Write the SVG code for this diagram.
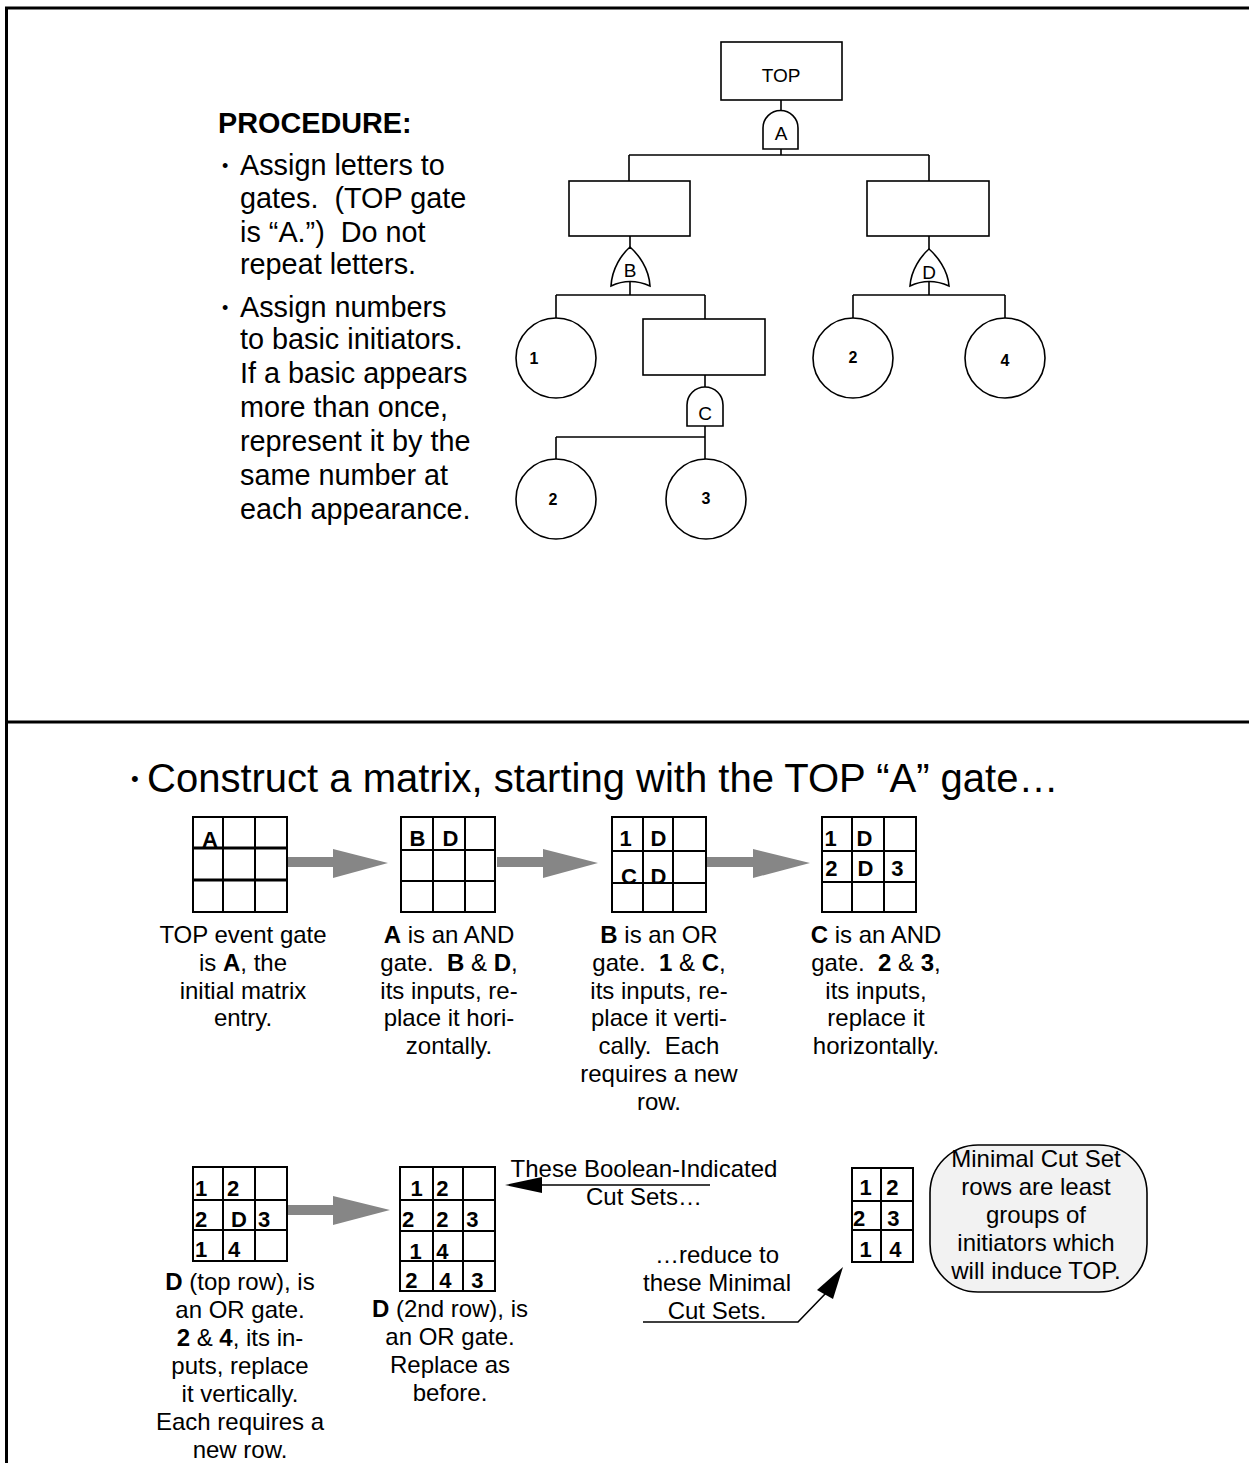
<svg xmlns="http://www.w3.org/2000/svg" width="1249" height="1463" viewBox="0 0 1249 1463">
<style>
text{white-space:pre}
.ln{stroke:#000;stroke-width:1.6;fill:none}
.bx{stroke:#000;stroke-width:1.6;fill:#fff}
.gt{stroke:#000;stroke-width:1.6;fill:#fff}
.gl{font-family:"Liberation Sans",Arial,sans-serif;font-size:19px;text-anchor:middle}
.cl{font-family:"Liberation Sans",Arial,sans-serif;font-size:16px;font-weight:bold;text-anchor:middle}
.pr{font-family:"Liberation Sans",Arial,sans-serif;font-size:28.8px}
.bu{font-family:"Liberation Sans",Arial,sans-serif;font-size:18px}
.big{font-family:"Liberation Sans",Arial,sans-serif;font-size:40px}
.cap{font-family:"Liberation Sans",Arial,sans-serif;font-size:24px;text-anchor:middle}
.m{stroke:#000;stroke-width:2;fill:#fff}
.ml{stroke:#000;stroke-width:2;fill:none}
.mt{font-family:"Liberation Sans",Arial,sans-serif;font-size:22px;font-weight:bold}
.ga{fill:#868686}
.b{font-weight:bold}
</style>
<rect width="1249" height="1463" fill="#fff"/>
<g id="frame">
<line x1="5" y1="8" x2="1249" y2="8" stroke="#000" stroke-width="3"/>
<line x1="6.5" y1="8" x2="6.5" y2="1463" stroke="#000" stroke-width="3"/>
<line x1="5" y1="722" x2="1249" y2="722" stroke="#000" stroke-width="3"/>
</g>

<g id="procedure">
<text class="pr b" x="218" y="133">PROCEDURE:</text>
<text class="bu" x="222" y="172">•</text>
<text class="pr" x="240" y="175">Assign letters to</text>
<text class="pr" x="240" y="208">gates.  (TOP gate</text>
<text class="pr" x="240" y="242">is “A.”)  Do not</text>
<text class="pr" x="240" y="274">repeat letters.</text>
<text class="bu" x="222" y="314">•</text>
<text class="pr" x="240" y="317">Assign numbers</text>
<text class="pr" x="240" y="349">to basic initiators.</text>
<text class="pr" x="240" y="383">If a basic appears</text>
<text class="pr" x="240" y="417">more than once,</text>
<text class="pr" x="240" y="451">represent it by the</text>
<text class="pr" x="240" y="485">same number at</text>
<text class="pr" x="240" y="519">each appearance.</text>
</g>

<g id="connectors">
<path class="ln" d="M781,100V110 M781,149V155 M629,155H929 M629,155V181 M929,155V181"/>
<path class="ln" d="M630,236V247 M630,282V295 M556,295H705 M556,295V318 M705,295V319"/>
<path class="ln" d="M705,375V387 M705,426V459 M556,437H705 M556,437V459"/>
<path class="ln" d="M929,236V249 M929,282V295 M853,295H1005 M853,295V318 M1005,295V318"/>
<line x1="540" y1="1185" x2="710" y2="1185" stroke="#000" stroke-width="1.6"/>
<polygon points="505,1185 542,1177 542,1193" fill="#000"/>
<polyline points="643,1322 798,1322 826,1293" fill="none" stroke="#000" stroke-width="1.6"/>
<polygon points="843,1267 817,1290 833,1299" fill="#000"/>
<g class="ga">
<rect x="288" y="857" width="46" height="10"/><polygon points="333,849 388,863 333,878"/>
<rect x="497" y="857" width="47" height="10"/><polygon points="543,849 598,863 543,878"/>
<rect x="707" y="857" width="47" height="10"/><polygon points="753,849 810,863 753,878"/>
<rect x="288" y="1205" width="46" height="10"/><polygon points="333,1196 390,1210 333,1225"/>
</g>
</g>

<g id="node-top">
<rect class="bx" x="721" y="42" width="121" height="58"/>
<text class="gl" x="781" y="82">TOP</text>
</g>
<g id="gate-A">
<path class="gt" d="M763,149V128A17.5,17.5 0 0 1 798,128V149Z"/>
<text class="gl" x="781" y="140">A</text>
</g>
<g id="node-left">
<rect class="bx" x="569" y="181" width="121" height="55"/>
</g>
<g id="node-right">
<rect class="bx" x="867" y="181" width="122" height="55"/>
</g>
<g id="gate-B">
<path class="gt" d="M630,247C622,254 612,268 611,286Q630,277 650,286C649,268 638,254 630,247Z"/>
<text class="gl" x="630" y="277">B</text>
</g>
<g id="gate-D">
<path class="gt" d="M929,249C921,256 911,270 910,286Q929,277 949,286C948,270 937,256 929,249Z"/>
<text class="gl" x="929" y="279">D</text>
</g>
<g id="basic-1">
<circle class="bx" cx="556" cy="358" r="40"/>
<text class="cl" x="534" y="364">1</text>
</g>
<g id="node-mid">
<rect class="bx" x="643" y="319" width="122" height="56"/>
</g>
<g id="gate-C">
<path class="gt" d="M687,426V405A18,18 0 0 1 723,405V426Z"/>
<text class="gl" x="705" y="420">C</text>
</g>
<g id="basic-2a">
<circle class="bx" cx="556" cy="499" r="40"/>
<text class="cl" x="553" y="505">2</text>
</g>
<g id="basic-3">
<circle class="bx" cx="706" cy="499" r="40"/>
<text class="cl" x="706" y="504">3</text>
</g>
<g id="basic-2b">
<circle class="bx" cx="853" cy="358" r="40"/>
<text class="cl" x="853" y="363">2</text>
</g>
<g id="basic-4">
<circle class="bx" cx="1005" cy="358" r="40"/>
<text class="cl" x="1005" y="366">4</text>
</g>

<g id="construct">
<text class="bu" x="131" y="786" style="font-size:22px">•</text>
<text class="big" x="147" y="792">Construct a matrix, starting with the TOP “A” gate…</text>
</g>

<g id="matrix-1">
<rect class="m" x="193" y="817" width="94" height="95"/>
<path class="ml" d="M223,817V912 M255,817V912"/>
<path d="M193,848H287 M193,880H287" stroke="#000" stroke-width="3"/>
<text class="mt" x="202" y="847">A</text>
</g>
<g id="matrix-2">
<rect class="m" x="401" y="817" width="94" height="95"/>
<path class="ml" d="M433,817V912 M465,817V912 M401,850H495 M401,881H495"/>
<text class="mt" x="409.5" y="846">B</text>
<text class="mt" x="442.5" y="846">D</text>
</g>
<g id="matrix-3">
<rect class="m" x="612" y="817" width="94" height="95"/>
<path class="ml" d="M643,817V912 M673,817V912 M612,851H706 M612,883H706"/>
<text class="mt" x="619.5" y="846">1</text>
<text class="mt" x="650.5" y="846">D</text>
<text class="mt" x="621" y="884">C</text>
<text class="mt" x="650.5" y="884">D</text>
</g>
<g id="matrix-4">
<rect class="m" x="822" y="817" width="94" height="95"/>
<path class="ml" d="M852,817V912 M884,817V912 M822,851H916 M822,882H916"/>
<text class="mt" x="824.5" y="846">1</text>
<text class="mt" x="856.5" y="846">D</text>
<text class="mt" x="825.3" y="876">2</text>
<text class="mt" x="857.5" y="876">D</text>
<text class="mt" x="891.3" y="876">3</text>
</g>

<g id="captions-1">
<text class="cap" y="943"><tspan x="243">TOP event gate</tspan><tspan x="243" dy="27.8">is <tspan class="b">A</tspan>, the</tspan><tspan x="243" dy="27.8">initial matrix</tspan><tspan x="243" dy="27.8">entry.</tspan></text>
<text class="cap" y="943"><tspan x="449"><tspan class="b">A</tspan> is an AND</tspan><tspan x="449" dy="27.8">gate.  <tspan class="b">B</tspan> &amp; <tspan class="b">D</tspan>,</tspan><tspan x="449" dy="27.8">its inputs, re-</tspan><tspan x="449" dy="27.8">place it hori-</tspan><tspan x="449" dy="27.8">zontally.</tspan></text>
<text class="cap" y="943"><tspan x="659"><tspan class="b">B</tspan> is an OR</tspan><tspan x="659" dy="27.8">gate.  <tspan class="b">1</tspan> &amp; <tspan class="b">C</tspan>,</tspan><tspan x="659" dy="27.8">its inputs, re-</tspan><tspan x="659" dy="27.8">place it verti-</tspan><tspan x="659" dy="27.8">cally.  Each</tspan><tspan x="659" dy="27.8">requires a new</tspan><tspan x="659" dy="27.8">row.</tspan></text>
<text class="cap" y="943"><tspan x="876"><tspan class="b">C</tspan> is an AND</tspan><tspan x="876" dy="27.8">gate.  <tspan class="b">2</tspan> &amp; <tspan class="b">3</tspan>,</tspan><tspan x="876" dy="27.8">its inputs,</tspan><tspan x="876" dy="27.8">replace it</tspan><tspan x="876" dy="27.8">horizontally.</tspan></text>
</g>

<g id="matrix-5">
<rect class="m" x="193" y="1167" width="94" height="94"/>
<path class="ml" d="M223,1167V1261 M255,1167V1261 M193,1200H287 M193,1230H287"/>
<text class="mt" x="195" y="1196">1</text>
<text class="mt" x="227" y="1196">2</text>
<text class="mt" x="195" y="1227">2</text>
<text class="mt" x="231" y="1227">D</text>
<text class="mt" x="258" y="1227">3</text>
<text class="mt" x="195" y="1257">1</text>
<text class="mt" x="228" y="1257">4</text>
</g>
<g id="matrix-6">
<rect class="m" x="400" y="1167" width="95" height="124"/>
<path class="ml" d="M433,1167V1291 M463,1167V1291 M400,1200H495 M400,1231H495 M400,1261H495"/>
<text class="mt" x="410.6" y="1196">1</text>
<text class="mt" x="436.3" y="1196">2</text>
<text class="mt" x="402" y="1227">2</text>
<text class="mt" x="436.3" y="1227">2</text>
<text class="mt" x="466.3" y="1227">3</text>
<text class="mt" x="409.6" y="1259">1</text>
<text class="mt" x="436.3" y="1259">4</text>
<text class="mt" x="405.3" y="1288">2</text>
<text class="mt" x="439.3" y="1288">4</text>
<text class="mt" x="471.3" y="1288">3</text>
</g>

<g id="captions-2">
<text class="cap" y="1290"><tspan x="240"><tspan class="b">D</tspan> (top row), is</tspan><tspan x="240" dy="28">an OR gate.</tspan><tspan x="240" dy="28"><tspan class="b">2</tspan> &amp; <tspan class="b">4</tspan>, its in-</tspan><tspan x="240" dy="28">puts, replace</tspan><tspan x="240" dy="28">it vertically.</tspan><tspan x="240" dy="28">Each requires a</tspan><tspan x="240" dy="28">new row.</tspan></text>
<text class="cap" y="1317"><tspan x="450"><tspan class="b">D</tspan> (2nd row), is</tspan><tspan x="450" dy="28">an OR gate.</tspan><tspan x="450" dy="28">Replace as</tspan><tspan x="450" dy="28">before.</tspan></text>
<text class="cap" y="1177"><tspan x="644">These Boolean-Indicated</tspan><tspan x="644" dy="28">Cut Sets…</tspan></text>
<text class="cap" y="1263"><tspan x="717">…reduce to</tspan><tspan x="717" dy="28">these Minimal</tspan><tspan x="717" dy="28">Cut Sets.</tspan></text>
</g>

<g id="matrix-7">
<rect class="m" x="852" y="1168" width="61" height="94"/>
<path class="ml" d="M881,1168V1262 M852,1201H913 M852,1230H913"/>
<text class="mt" x="859.6" y="1195">1</text>
<text class="mt" x="886.3" y="1195">2</text>
<text class="mt" x="853" y="1226">2</text>
<text class="mt" x="887.3" y="1226">3</text>
<text class="mt" x="859.6" y="1257">1</text>
<text class="mt" x="889.3" y="1257">4</text>
</g>

<g id="callout">
<rect x="930" y="1145" width="217" height="147" rx="48" ry="48" fill="#f2f2f2" stroke="#000" stroke-width="1.6"/>
<text class="cap" y="1167"><tspan x="1036">Minimal Cut Set</tspan><tspan x="1036" dy="28">rows are least</tspan><tspan x="1036" dy="28">groups of</tspan><tspan x="1036" dy="28">initiators which</tspan><tspan x="1036" dy="28">will induce TOP.</tspan></text>
</g>
</svg>
